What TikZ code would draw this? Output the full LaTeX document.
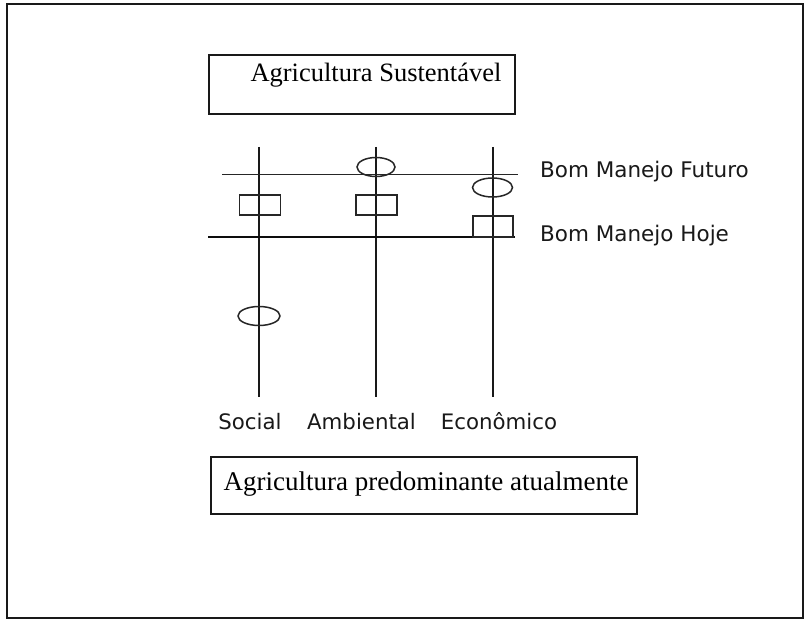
\documentclass[tikz,border=0pt]{standalone}
\usepackage{fontspec}
\setmainfont{Liberation Serif}
\newfontfamily\labfont{DejaVu Sans}
\usetikzlibrary{shapes.geometric}
\begin{document}
\begin{tikzpicture}[x=1pt,y=-1pt,
  boxst/.style={draw=black!90, line width=1.4pt, rectangle, inner sep=0pt},
  serifl/.style={font=\fontsize{26.5}{30}\selectfont, inner sep=0pt, anchor=base},
  axislab/.style={font=\labfont\fontsize{21.3}{25}\selectfont, inner sep=0pt, anchor=base, text=black!90},
  levlab/.style={font=\labfont\fontsize{21.5}{25}\selectfont, inner sep=0pt, anchor=base west, text=black!90},
  axisline/.style={draw=black!90, line width=1.3pt},
  sq/.style={draw=black!85, line width=1.5pt, rectangle, inner sep=0pt, minimum width=41pt, minimum height=20pt},
  ov/.style={draw=black!85, line width=1.5pt, ellipse, inner sep=0pt, minimum width=39pt, minimum height=19pt}
]
\useasboundingbox (0,0) rectangle (805,620);
\fill[white] (0,0) rectangle (805,620);
% outer frame
\draw[draw=black!90, line width=1.8pt] (7,4) rectangle (803,618);

% top box
\node[boxst, minimum width=306pt, minimum height=59pt] (sust) at (362,84.5) {};
\node[serifl] (sustT) at (376,82) {Agricultura Sustent\'avel};

% bottom box
\node[boxst, minimum width=426pt, minimum height=57pt] (pred) at (424,485.5) {};
\node[serifl, font=\fontsize{27}{30}\selectfont] (predT) at (426,490) {Agricultura predominante atualmente};

% axes
\coordinate (soctop) at (259,147);
\coordinate (socbot) at (259,397);
\coordinate (ambtop) at (376,147);
\coordinate (ambbot) at (376,397);
\coordinate (ecotop) at (493,147);
\coordinate (ecobot) at (493,397);
\draw[axisline] (soctop) -- (socbot);
\draw[axisline] (ambtop) -- (ambbot);
\draw[axisline] (ecotop) -- (ecobot);

% level lines
\coordinate (futL) at (222,174);
\coordinate (futR) at (518,174);
\coordinate (hojL) at (208,237);
\coordinate (hojR) at (515,237);
\draw[draw=black!85, line width=0.9pt] (futL) -- (futR);
\draw[draw=black!95, line width=1.8pt] (hojL) -- (hojR);

% squares
\node[sq] (socsq) at (260,205) {};
\node[sq] (ambsq) at (376.5,205) {};
\node[sq, minimum width=40pt, minimum height=21pt] (ecosq) at (493,226.5) {};

% ellipses
\node[ov, minimum width=38pt] (ambov) at (376,167) {};
\node[ov, minimum width=40pt] (ecoov) at (492.5,187.5) {};
\node[ov, minimum width=42pt] (socov) at (259,316) {};

% axis labels
\node[axislab] (socl) at (250,429) {Social};
\node[axislab] (ambl) at (361.5,429) {Ambiental};
\node[axislab] (ecol) at (499,429) {Econ\^omico};

% level labels
\node[levlab] (futl) at (540,178) {Bom Manejo Futuro};
\node[levlab] (hojl) at (540,242) {Bom Manejo Hoje};
\end{tikzpicture}
\end{document}
